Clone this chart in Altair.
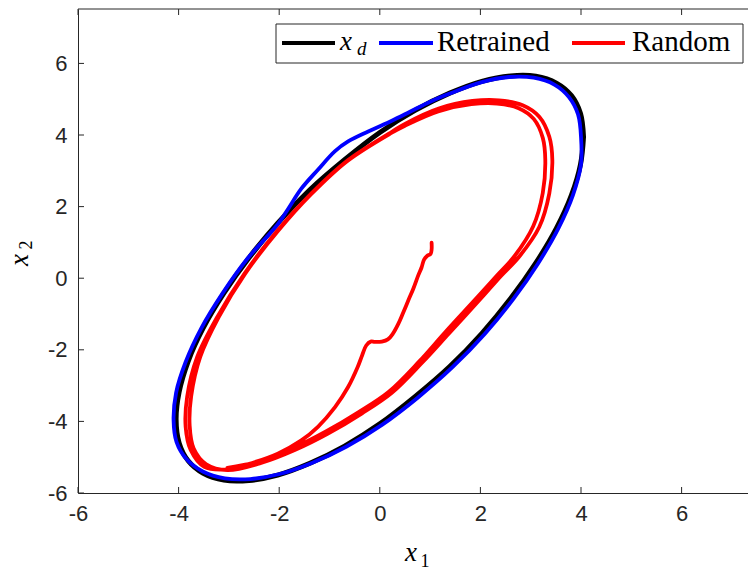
import altair as alt
import pandas as pd

# ---------------- data ----------------
# desired trajectory x_d
xd_x1 = [4.05, 3.99, 3.81, 3.51, 3.10, 2.60, 2.03, 1.39, 0.70, 0.00, -0.70, -1.39, -2.03, -2.60,
         -3.10, -3.51, -3.81, -3.99, -4.05, -3.99, -3.81, -3.51, -3.10, -2.60, -2.03, -1.39, -0.70,
         0.00, 0.70, 1.39, 2.03, 2.60, 3.10, 3.51, 3.81, 3.99, 4.05]
xd_x2 = [3.95, 4.60, 5.10, 5.45, 5.64, 5.65, 5.50, 5.17, 4.69, 4.07, 3.31, 2.47, 1.54, 0.57,
         -0.42, -1.39, -2.32, -3.18, -3.95, -4.60, -5.10, -5.45, -5.64, -5.65, -5.50, -5.17, -4.69,
         -4.07, -3.31, -2.47, -1.54, -0.57, 0.42, 1.39, 2.32, 3.18, 3.95]

# retrained controller
ret_x1 = [4.00, 3.94, 3.76, 3.47, 3.06, 2.57, 2.01, 1.38, 1.00, 0.60, 0.24, -0.23, -0.63, -0.89,
          -1.23, -1.56, -1.83, -2.03, -2.63, -3.13, -3.55, -3.86, -4.05, -4.10, -4.04, -3.84,
          -3.52, -3.08, -2.57, -1.99, -1.35, -0.66, 0.05, 0.76, 1.45, 2.09, 2.66, 3.15, 3.55,
          3.84, 4.00, 4.00]
ret_x2 = [3.95, 4.58, 5.06, 5.41, 5.60, 5.62, 5.47, 5.15, 4.93, 4.65, 4.40, 4.10, 3.82, 3.55,
          3.03, 2.50, 1.92, 1.50, 0.55, -0.43, -1.40, -2.34, -3.20, -3.95, -4.58, -5.06,
          -5.40, -5.59, -5.61, -5.47, -5.16, -4.70, -4.09, -3.33, -2.48, -1.55, -0.57, 0.42, 1.39,
          2.32, 3.18, 3.95]

# random controller (transient tail, then two laps)
rnd_x1 = [1.03, 1.03, 1.01, 0.94, 0.88, 0.83, 0.77, 0.67, 0.57, 0.46, 0.37, 0.26, 0.16, 0.04,
          -0.10, -0.18, -0.27, -0.35, -0.44, -0.63, -0.89, -1.23, -1.56, -2.03, -2.63, -3.03,
          -3.49, -3.76, -3.86, -3.83, -3.63, -3.23, -2.69, -2.03, -1.36, -0.63, 0.24, 0.51, 1.17,
          1.84, 2.37, 2.84, 3.17, 3.37, 3.43, 3.37, 3.17, 2.77, 2.40, 2.04, 1.37, 0.84, 0.24,
          -0.36, -1.03, -1.69, -2.36, -3.03,
          -3.45, -3.70, -3.78, -3.75, -3.57, -3.20, -2.68, -2.03, -1.37, -0.65, 0.22, 0.50, 1.16,
          1.82, 2.33, 2.76, 3.06, 3.24, 3.29, 3.24, 3.05, 2.68, 2.32, 1.96, 1.30, 0.78, 0.18,
          -0.42, -1.08, -1.73, -2.39, -3.03]
rnd_x2 = [0.99, 0.80, 0.68, 0.62, 0.52, 0.30, 0.10, -0.28, -0.61, -0.98, -1.27, -1.55, -1.71, -1.77,
          -1.78, -1.77, -1.88, -2.15, -2.48, -3.04, -3.60, -4.15, -4.53, -4.90, -5.20, -5.34,
          -5.27, -4.80, -4.15, -3.31, -2.20, -1.08, 0.13, 1.34, 2.37, 3.30, 4.09, 4.32, 4.74,
          4.95, 4.97, 4.83, 4.51, 3.95, 3.30, 2.37, 1.43, 0.60, 0.05, -0.52, -1.55, -2.36, -3.20,
          -3.78, -4.34, -4.80, -5.16, -5.36,
          -5.20, -4.76, -4.12, -3.30, -2.20, -1.08, 0.12, 1.31, 2.34, 3.27, 4.05, 4.26, 4.66,
          4.86, 4.88, 4.75, 4.45, 3.92, 3.30, 2.38, 1.45, 0.62, 0.06, -0.50, -1.51, -2.33, -3.17,
          -3.74, -4.29, -4.75, -5.11, -5.30]

tick_values = [-6, -4, -2, 0, 2, 4, 6]
legend_labels = ["Retrained", "Random"]
series_colors = ["#000000", "#0000ff", "#ff0000"]

# ---------------- layout ----------------
W, H = 670, 484
AX = "#262626"
xs = alt.Scale(domain=[-6, 7.32], nice=False, zero=False)
ys = alt.Scale(domain=[-6, 7.52], nice=False, zero=False)

common_axis = dict(values=tick_values, title=None, grid=False, ticks=False, tickSize=0,
                   domain=True, domainColor=AX, domainWidth=1, labelFont="Liberation Sans",
                   labelFontSize=22, labelColor=AX, labelFlush=False,
                   labelOverlap=False, labelExpr="'' + datum.value")


def xenc(field):
    return alt.X(field, scale=xs, axis=alt.Axis(labelPadding=10, **common_axis))


def yenc(field):
    return alt.Y(field, scale=ys, axis=alt.Axis(labelPadding=11, **common_axis))


def frame(x1, x2):
    return pd.DataFrame({"x1": x1, "x2": x2, "order": list(range(len(x1)))})


def curve(x1, x2, color, width):
    return alt.Chart(frame(x1, x2)).mark_line(
        interpolate="catmull-rom", color=color, strokeWidth=width, strokeJoin="round", strokeCap="round"
    ).encode(x=xenc("x1:Q"), y=yenc("x2:Q"), order="order:Q")


black = curve(xd_x1, xd_x2, series_colors[0], 5)
blue = curve(ret_x1, ret_x2, series_colors[1], 3.8)
red = curve(rnd_x1, rnd_x2, series_colors[2], 3.8)

ticks_df = pd.DataFrame({"v": tick_values})
tick_style = dict(color=AX, strokeWidth=1)
bottom_ticks = alt.Chart(ticks_df).mark_rule(**tick_style).encode(
    x=xenc("v:Q"), y=alt.value(H), y2=alt.value(H - 6))
top_ticks = alt.Chart(ticks_df).mark_rule(**tick_style).encode(
    x=xenc("v:Q"), y=alt.value(0), y2=alt.value(6))
left_ticks = alt.Chart(ticks_df).mark_rule(**tick_style).encode(
    y=yenc("v:Q"), x=alt.value(0), x2=alt.value(6))

one = alt.Data(values=[{}])
top_border = alt.Chart(one).mark_rule(color=AX, strokeWidth=1).encode(
    x=alt.value(0), x2=alt.value(W), y=alt.value(0))


def txt(s, x, y, size, italic=False, align="left", baseline="alphabetic", angle=0, font="Liberation Serif"):
    kw = dict(text=s, font=font, fontSize=size, align=align, baseline=baseline, color="#000000")
    if italic:
        kw["fontStyle"] = "italic"
    if angle:
        kw["angle"] = angle
    return alt.Chart(one).mark_text(**kw).encode(x=alt.value(x), y=alt.value(y))


# axis titles (x_1, x_2)
xlab = txt("x", 333, 552, 27, italic=True, align="center") + txt("1", 347, 558, 18, align="center")
ylab = (txt("x", -58, 251, 27, italic=True, align="center", baseline="middle", angle=270)
        + txt("2", -51, 236, 18, align="center", baseline="middle", angle=270))

# legend
leg_box = alt.Chart(one).mark_rect(fill="white", stroke=AX, strokeWidth=1).encode(
    x=alt.value(198), x2=alt.value(665), y=alt.value(15), y2=alt.value(54))
leg_lines = (
    alt.Chart(one).mark_rule(color=series_colors[0], strokeWidth=4).encode(
        x=alt.value(204), x2=alt.value(257), y=alt.value(34))
    + alt.Chart(one).mark_rule(color=series_colors[1], strokeWidth=4).encode(
        x=alt.value(301), x2=alt.value(355), y=alt.value(34))
    + alt.Chart(one).mark_rule(color=series_colors[2], strokeWidth=4).encode(
        x=alt.value(494), x2=alt.value(547), y=alt.value(34))
)
leg_text = (txt("x", 262, 41, 27, italic=True) + txt("d", 279, 46, 19, italic=True)
            + txt(legend_labels[0], 359, 42, 29) + txt(legend_labels[1], 554, 42, 29))

chart = alt.layer(
    black, blue, red, bottom_ticks, top_ticks, left_ticks, top_border,
    xlab, ylab, leg_box, leg_lines, leg_text,
).properties(
    width=W, height=H,
    autosize=alt.AutoSizeParams(type="none"),
    padding={"left": 78, "top": 9, "right": 0, "bottom": 84},
    background="white",
).configure_view(stroke=None)

chart.save("out.html", embed_options={"renderer": "svg", "actions": False})
